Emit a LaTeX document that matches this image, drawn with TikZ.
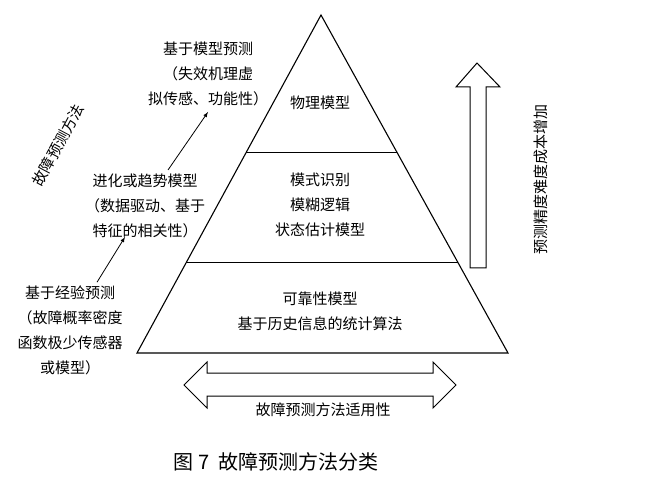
\documentclass[tikz,border=0pt]{standalone}
\usepackage{fontspec}
\newfontfamily\cjk{Noto Sans CJK SC}
\begin{document}
\begin{tikzpicture}[x=1pt,y=-1pt,
  lbl/.style={font=\cjk\fontsize{15}{25}\selectfont,align=center,inner sep=1pt},
  shape line/.style={draw=black,line width=1.1pt,line join=miter},
  conn/.style={-latex,line width=0.8pt}]
\useasboundingbox (0,0) rectangle (661,478);
% pyramid
\coordinate (apex) at (321,15);
\coordinate (bl) at (137,353);
\coordinate (br) at (508,353);
\draw[shape line] (apex) -- (bl) -- (br) -- cycle;
\draw[line width=1pt] (246,153) -- (397,153);
\draw[line width=1pt] (186,263) -- (458,263);
\node[lbl] (phys) at (320,103) {物理模型};
\node[lbl] (mid) at (320,205) {模式识别\\模糊逻辑\\状态估计模型};
\node[lbl] (low) at (320,311) {可靠性模型\\基于历史信息的统计算法};
% left labels
\node[lbl] (model) at (208,74) {基于模型预测\\（失效机理虚\\拟传感、功能性）};
\node[lbl] (trend) at (145,206) {进化或趋势模型\\（数据驱动、基于\\特征的相关性）};
\node[lbl] (exp) at (70,330) {基于经验预测\\（故障概率密度\\函数极少传感器\\或模型）};
\draw[conn] (exp.north) ++(27,-2) -- (125,237);
\draw[conn] (168,170) -- (208,112);
\node[lbl,rotate=62] (side) at (58,145) {故障预测方法};
% up arrow
\draw[shape line,line width=1pt] (470,268) -- (470,87) -- (456,87) -- (477,63) -- (500,87) -- (486,87) -- (486,268) -- cycle;
\node[lbl,rotate=90] (vlab) at (541,180) {预测精度难度成本增加};
% double arrow
\draw[shape line,line width=1pt] (184,385) -- (207,362) -- (207,373) -- (433,373) -- (433,362) -- (456,385) -- (433,408) -- (433,396) -- (207,396) -- (207,408) -- cycle;
\node[lbl,fill=white,inner sep=0pt] (hlab) at (323,410) {故障预测方法适用性};
\node[font=\cjk\fontsize{20}{24}\selectfont] (cap) at (276,462) {图 7\ \ 故障预测方法分类};
\end{tikzpicture}
\end{document}
